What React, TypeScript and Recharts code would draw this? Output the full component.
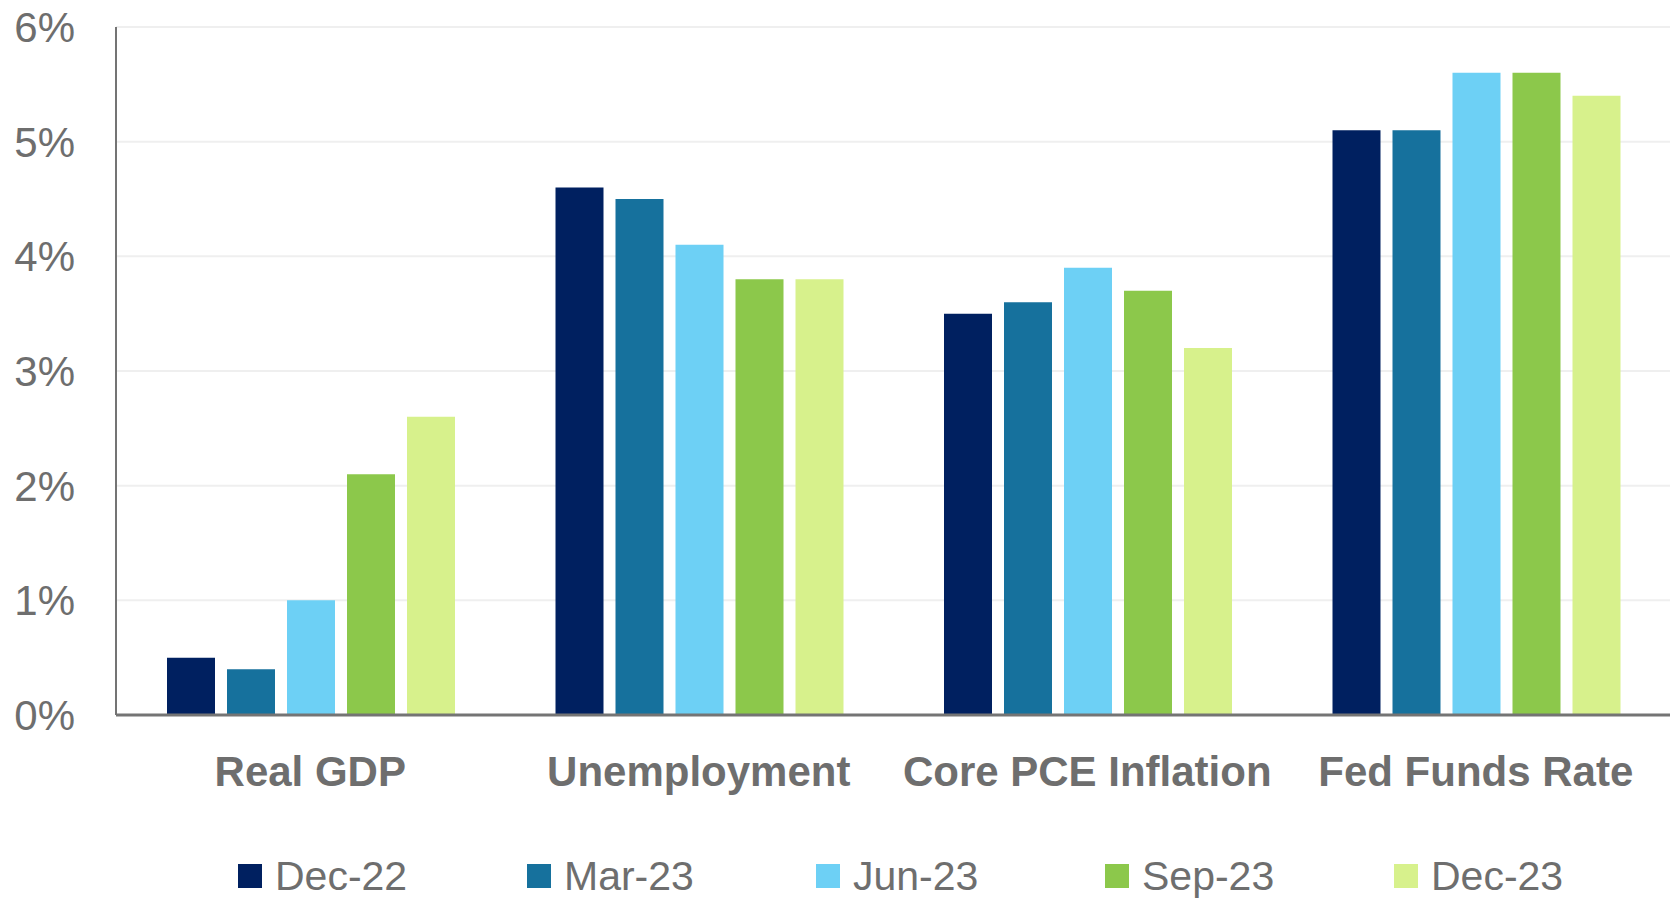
import { BarChart, Bar, XAxis, YAxis, CartesianGrid, Legend } from "recharts";

const categories = ["Real GDP", "Unemployment", "Core PCE Inflation", "Fed Funds Rate"];
const dec22 = [0.5, 4.6, 3.5, 5.1];
const mar23 = [0.4, 4.5, 3.6, 5.1];
const jun23 = [1.0, 4.1, 3.9, 5.6];
const sep23 = [2.1, 3.8, 3.7, 5.6];
const dec23 = [2.6, 3.8, 3.2, 5.4];
const seriesNames = ["Dec-22", "Mar-23", "Jun-23", "Sep-23", "Dec-23"];
const seriesColors = ["#002060", "#16719d", "#6dd0f5", "#8cc84b", "#d7f18c"];
const yTicks = [0, 1, 2, 3, 4, 5, 6];

const FONT = '"Liberation Sans", Arial, sans-serif';
const TEXT = "#6e6e6e";
const AXIS = "#747474";

const seriesValues = [dec22, mar23, jun23, sep23, dec23];
const data = categories.map((name, i) => {
  const row: Record<string, string | number> = { name };
  seriesNames.forEach((s, j) => {
    row[s] = seriesValues[j][i];
  });
  return row;
});

const CategoryTick = ({ x, y, payload }: any) => (
  <text
    x={x}
    y={y}
    dy={71}
    textAnchor="middle"
    fontSize={42}
    fontWeight="bold"
    fontFamily={FONT}
    fill={TEXT}
  >
    {payload.value}
  </text>
);

// legend keeps series order (recharts sorts by name otherwise)
const renderLegend = () => (
  <div style={{ display: "flex", fontFamily: FONT, fontSize: 41, color: TEXT, lineHeight: "46px" }}>
    {seriesNames.map((name, i) => (
      <div key={name} style={{ width: 289, flexShrink: 0, display: "flex", alignItems: "center" }}>
        <span
          style={{ width: 24, height: 24, background: seriesColors[i], marginRight: 13, display: "inline-block" }}
        />
        <span>{name}</span>
      </div>
    ))}
  </div>
);

export default function App() {
  return (
    <div style={{ position: "absolute", left: 0, top: 0, background: "#fff" }}>
      <BarChart
        width={1673}
        height={899}
        data={data}
        margin={{ top: 27, right: 3, left: 0, bottom: 0 }}
        barCategoryGap={51}
        barGap={12}
      >
        <CartesianGrid vertical={false} stroke="#efefef" strokeWidth={2} />
        <XAxis
          dataKey="name"
          height={184}
          tickLine={false}
          tickSize={0}
          tickMargin={0}
          axisLine={{ stroke: AXIS, strokeWidth: 3 }}
          tick={<CategoryTick />}
          interval={0}
        />
        <YAxis
          width={116}
          domain={[0, 6]}
          ticks={yTicks}
          interval={0}
          tickLine={false}
          tickSize={0}
          tickMargin={41}
          axisLine={{ stroke: AXIS, strokeWidth: 2 }}
          tickFormatter={(v: number) => `${v}%`}
          tick={{ fontSize: 42, fill: TEXT, fontFamily: FONT }}
        />
        <Legend
          layout="horizontal"
          verticalAlign="middle"
          align="center"
          content={renderLegend}
          wrapperStyle={{ top: 853, left: 238, width: 1435 }}
        />
        {seriesNames.map((s, i) => (
          <Bar key={s} dataKey={s} fill={seriesColors[i]} isAnimationActive={false} />
        ))}
      </BarChart>
    </div>
  );
}
